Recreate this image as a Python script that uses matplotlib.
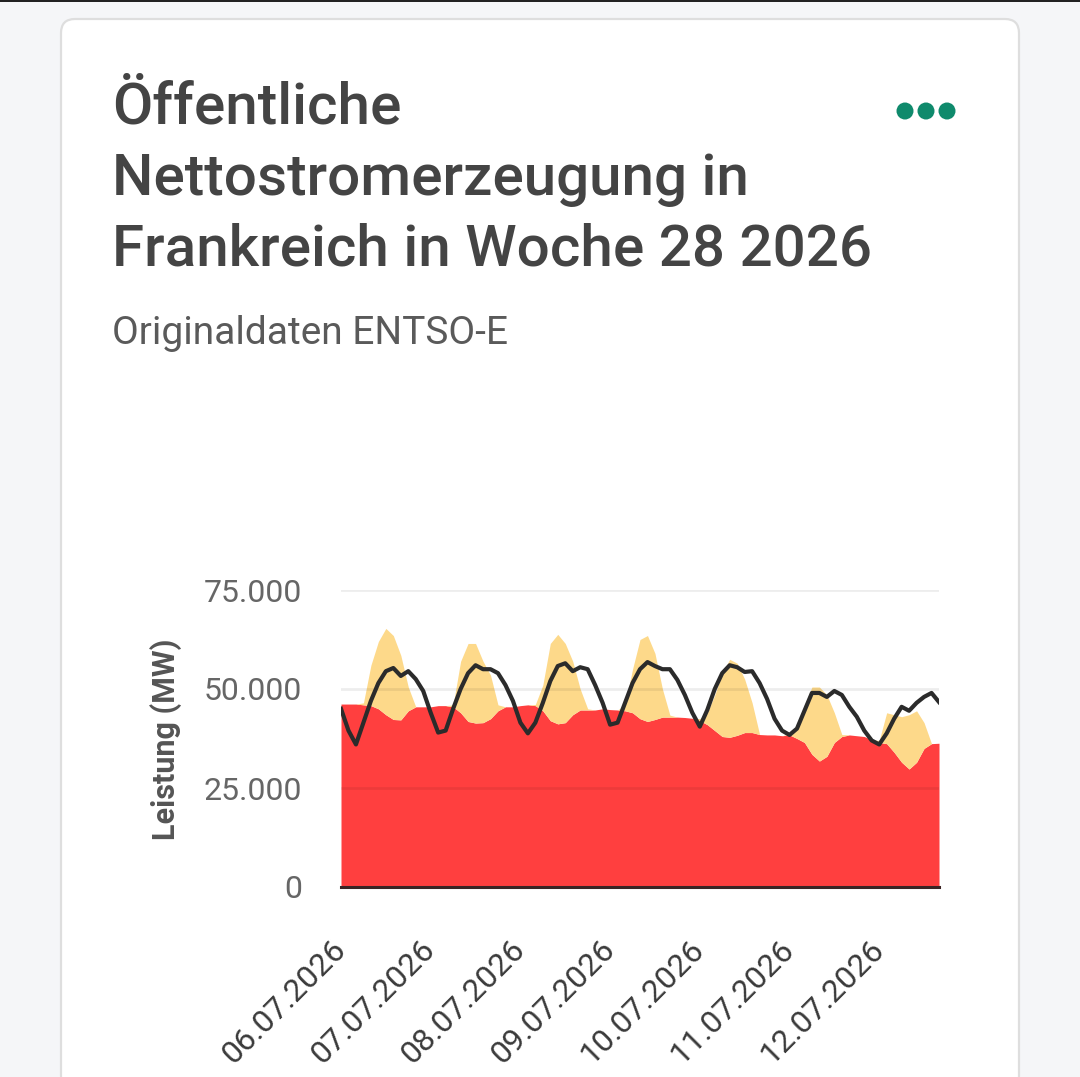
import numpy as np
import pandas as pd
import matplotlib
matplotlib.use("Agg")
import matplotlib.pyplot as plt
from matplotlib.patches import FancyBboxPatch, Rectangle, Circle

# ---------------- data (values in 1000 MW, 2-hour steps from 06.07.2026 00:00) -------------
times = pd.date_range("2026-07-06 00:00", periods=81, freq="2h")

nuclear_gw = [46.2, 46.2, 46.2, 46.0, 45.8, 45.0, 43.5, 42.3, 42.2, 44.5,
              45.5, 45.5, 45.5, 45.8, 45.8, 45.5, 44.0, 41.8, 41.4, 41.5,
              42.5, 44.5, 45.5, 45.5, 45.8, 46.0, 45.8, 44.5, 42.0, 41.2,
              41.5, 43.5, 44.7, 44.7, 44.7, 45.0, 44.8, 44.7, 44.5, 44.0,
              42.5, 41.8, 42.3, 42.9, 42.9, 42.9, 42.8, 42.6, 42.0, 41.0,
              39.5, 38.0, 37.8, 38.3, 39.0, 39.0, 38.5, 38.4, 38.4, 38.2,
              38.4, 37.5, 36.5, 33.5, 31.8, 33.0, 36.5, 38.0, 38.4, 38.2,
              38.0, 37.2, 36.5, 36.2, 34.0, 31.5, 29.8, 31.5, 35.0, 36.2,
              36.3]

solar_gw = [0.0, 0.0, 0.0, 0.5, 10.2, 17.0, 21.8, 21.2, 16.3, 6.0,
            0.0, 0.0, 0.0, 0.0, 0.0, 0.5, 13.0, 19.7, 20.1, 15.5,
            11.0, 1.5, 0.0, 0.0, 0.0, 0.0, 0.3, 6.5, 19.5, 22.6,
            20.0, 13.5, 5.3, 0.3, 0.0, 0.0, 0.0, 0.0, 1.5, 11.0,
            20.0, 21.7, 16.7, 7.1, 0.5, 0.0, 0.0, 0.0, 0.5, 3.0,
            9.0, 16.0, 19.7, 18.2, 13.5, 7.5, 0.0, 0.0, 0.0, 0.0,
            0.3, 2.5, 9.5, 17.0, 18.7, 15.5, 7.5, 0.5, 0.0, 0.0,
            0.0, 0.0, 0.5, 7.8, 9.5, 11.5, 13.7, 13.0, 6.5, 0.0,
            0.0]

load_gw = [45.0, 39.5, 36.0, 41.5, 47.0, 51.5, 54.5, 55.3, 53.3, 54.5,
           52.5, 49.5, 44.0, 39.0, 39.5, 45.0, 50.0, 54.0, 56.0, 55.0,
           55.0, 54.0, 51.0, 47.0, 41.5, 38.8, 41.5, 46.5, 52.0, 55.8,
           56.5, 54.5, 55.5, 55.0, 51.0, 46.5, 41.0, 41.5, 46.5, 51.5,
           55.0, 56.8, 55.8, 55.0, 55.0, 52.3, 48.5, 44.0, 40.5, 44.7,
           50.0, 54.0, 56.0, 55.5, 54.3, 54.5, 51.5, 47.5, 42.5, 39.5,
           38.4, 40.0, 44.5, 49.0, 49.0, 48.0, 49.5, 48.5, 45.5, 43.0,
           39.5, 37.0, 36.0, 38.8, 42.5, 45.5, 44.5, 46.5, 48.0, 49.0,
           46.7]

y_ticks = [0, 25000, 50000, 75000]
y_tick_labels = ["0", "25.000", "50.000", "75.000"]
x_tick_dates = pd.date_range("2026-07-06", periods=7, freq="D")
x_tick_labels = ["06.07.2026", "07.07.2026", "08.07.2026", "09.07.2026",
                 "10.07.2026", "11.07.2026", "12.07.2026"]

title_lines = ["Öffentliche", "Nettostromerzeugung in", "Frankreich in Woche 28 2026"]
subtitle = "Originaldaten ENTSO-E"
y_label = "Leistung (MW)"

# ---------------- figure ----------------
W, H = 1080, 1077
fig = plt.figure(figsize=(W / 100, H / 100), dpi=100)
fig.patch.set_facecolor("#f5f6f8")

def fx(px):
    return px / W

def fy(py):
    return 1 - py / H

fig.add_artist(Rectangle((0, fy(2)), 1, 2 / H, transform=fig.transFigure,
                         facecolor="#222222", edgecolor="none", zorder=-2))
card = FancyBboxPatch((fx(61), fy(1090)), fx(958), (1090 - 19) / H,
                      boxstyle="round,pad=0,rounding_size=0.013",
                      transform=fig.transFigure, facecolor="white",
                      edgecolor="#dedede", linewidth=1.6, zorder=-2)
fig.add_artist(card)

for line, base in zip(title_lines, [124, 195, 265]):
    fig.text(fx(112), fy(base), line, fontsize=42, family="Roboto",
             fontweight="medium", color="#444444", va="baseline", ha="left")
fig.text(fx(112), fy(344), subtitle, fontsize=28, family="Roboto",
         color="#5a5a5a", va="baseline", ha="left")

for cx in [905, 926, 947]:
    fig.add_artist(Circle((cx / 100, (H - 111) / 100), 0.085,
                          transform=fig.dpi_scale_trans,
                          facecolor="#0f8a6c", edgecolor="none"))

ax = fig.add_axes([fx(341), fy(887), fx(939) - fx(341), (887 - 590) / H])
ax.set_facecolor("none")

nuclear = np.array(nuclear_gw) * 1000
solar = np.array(solar_gw) * 1000
load = np.array(load_gw) * 1000

ax.fill_between(times, 0, nuclear, color="#ff3f3f", lw=0, zorder=1)
ax.fill_between(times, nuclear, nuclear + solar, color="#fdd98a", lw=0, zorder=1)
for yv in y_ticks[1:]:
    ax.axhline(yv, color=(0, 0, 0, 0.07), lw=2, zorder=2)
ax.plot(times, load, color="#2b2b2b", lw=3, zorder=3, solid_joinstyle="round")
ax.axhline(0, color="#3b2424", lw=2.2, zorder=4, clip_on=False)

ax.set_xlim(times[0], times[-1])
ax.set_ylim(0, 75000)
ax.set_yticks(y_ticks)
ax.set_yticklabels(y_tick_labels, fontsize=23, family="Roboto", color="#666666")
ax.set_xticks(x_tick_dates)
ax.set_xticklabels(x_tick_labels, rotation=45, ha="right", va="center",
                   rotation_mode="anchor", fontsize=23, family="Roboto",
                   color="#3a3a3a")
ax.tick_params(axis="y", length=0, pad=28)
ax.tick_params(axis="x", length=0, pad=42)
for s in ax.spines.values():
    s.set_visible(False)

fig.text(fx(166), fy(739), y_label, rotation=90, fontsize=22, family="Roboto",
         fontweight="bold", color="#555555", ha="center", va="center")

fig.savefig("out.png", dpi=100, facecolor=fig.get_facecolor())
